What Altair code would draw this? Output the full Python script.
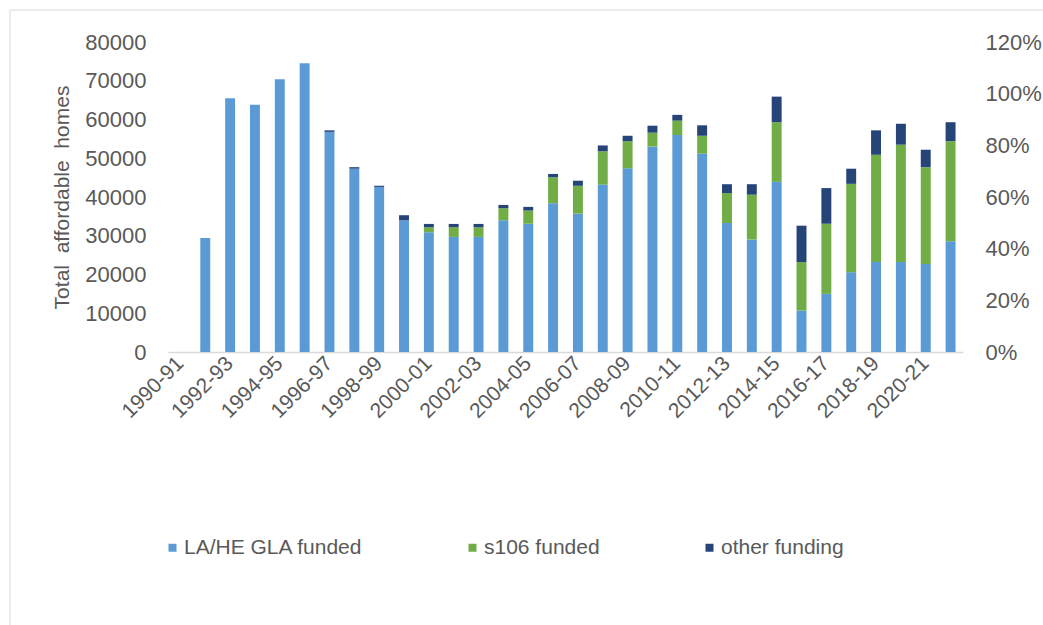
import altair as alt
import pandas as pd

years = ["1990-91", "1991-92", "1992-93", "1993-94", "1994-95", "1995-96", "1996-97", "1997-98",
         "1998-99", "1999-00", "2000-01", "2001-02", "2002-03", "2003-04", "2004-05", "2005-06",
         "2006-07", "2007-08", "2008-09", "2009-10", "2010-11", "2011-12", "2012-13", "2013-14",
         "2014-15", "2015-16", "2016-17", "2017-18", "2018-19", "2019-20", "2020-21", "2021-22"]

la_he_gla = [0, 29400, 65500, 63800, 70400, 74500, 56800, 47300,
             42600, 34000, 30900, 29700, 29700, 34000, 33100, 38400,
             35700, 43200, 47400, 53000, 56000, 51200, 33300, 29000,
             43900, 10700, 15000, 20600, 23200, 23200, 22700, 28600]

s106 = [0, 0, 0, 0, 0, 0, 0, 0,
        0, 0, 1300, 2500, 2500, 3100, 3400, 6700,
        7200, 8600, 7000, 3600, 3700, 4600, 7700, 11600,
        15400, 12500, 18100, 22800, 27700, 30300, 25000, 25800]

other = [0, 0, 0, 0, 0, 0, 400, 400,
         300, 1300, 850, 850, 850, 850, 950, 850,
         1300, 1500, 1400, 1800, 1500, 2700, 2300, 2700,
         6600, 9400, 9200, 3900, 6300, 5400, 4500, 4900]

series_names = ["LA/HE GLA funded", "s106 funded", "other funding"]
series_colors = ["#5B9BD5", "#70AD47", "#264478"]
left_ticks = [0, 10000, 20000, 30000, 40000, 50000, 60000, 70000, 80000]
right_ticks = [0, 0.2, 0.4, 0.6, 0.8, 1.0, 1.2]
shown_labels = years[::2]
y_title = "Total\u00a0\u00a0affordable\u00a0\u00a0homes"

rows = []
for i, yr in enumerate(years):
    for k, (name, vals) in enumerate(zip(series_names, [la_he_gla, s106, other])):
        rows.append({"year": yr, "series": name, "homes": vals[i], "order": k})
df = pd.DataFrame(rows)

TXT = "#595959"
FS = 21

bars = alt.Chart(df).mark_bar().encode(
    x=alt.X("year:N", sort=years,
            scale=alt.Scale(domain=years, paddingInner=0.6, paddingOuter=0.3),
            axis=alt.Axis(values=shown_labels, labelAngle=-45, labelAlign="right",
                          labelBaseline="middle", labelPadding=8, ticks=False,
                          domainColor="#d9d9d9", domainWidth=1.5, title=None,
                          labelFontSize=FS, labelColor=TXT, labelOverlap=False)),
    y=alt.Y("homes:Q", stack="zero",
            scale=alt.Scale(domain=[0, 80000], nice=False),
            axis=alt.Axis(values=left_ticks, format="d", title=y_title,
                          domain=False, ticks=False, grid=False, labelPadding=22,
                          labelFontSize=22, labelColor=TXT, titleFontSize=FS,
                          titleColor=TXT, titleFontWeight="normal", titlePadding=12)),
    color=alt.Color("series:N",
                    scale=alt.Scale(domain=series_names, range=series_colors),
                    legend=alt.Legend(orient="none", legendX=-6, legendY=495,
                                      direction="horizontal", title=None,
                                      symbolType="square", symbolSize=64,
                                      symbolStrokeWidth=0, labelFontSize=FS,
                                      labelColor=TXT, columnPadding=99,
                                      labelOffset=1, padding=0, labelLimit=400)),
    order=alt.Order("order:Q"),
)

right_axis = alt.Chart(pd.DataFrame({"share": [0]})).mark_point(opacity=0).encode(
    y=alt.Y("share:Q", scale=alt.Scale(domain=[0, 1.2], nice=False),
            axis=alt.Axis(orient="right", values=right_ticks, format=".0%", title=None,
                          domain=False, ticks=False, grid=False, labelPadding=22,
                          labelFontSize=22, labelColor=TXT))
)

frame = alt.Chart(pd.DataFrame({"f": [0]})).mark_rect(
    fillOpacity=0, stroke="#d9d9d9", strokeWidth=1
).encode(
    x=alt.value(-158), x2=alt.value(920), y=alt.value(-32), y2=alt.value(620)
)

chart = alt.layer(frame, bars, right_axis).resolve_scale(y="independent").properties(
    width=795, height=310,
    padding={"left": 168, "top": 42, "right": 80, "bottom": 273},
    autosize=alt.AutoSizeParams(type="none"),
).configure(font="Liberation Sans").configure_view(stroke=None)

chart.save("out.html", embed_options={"renderer": "svg", "actions": False})
